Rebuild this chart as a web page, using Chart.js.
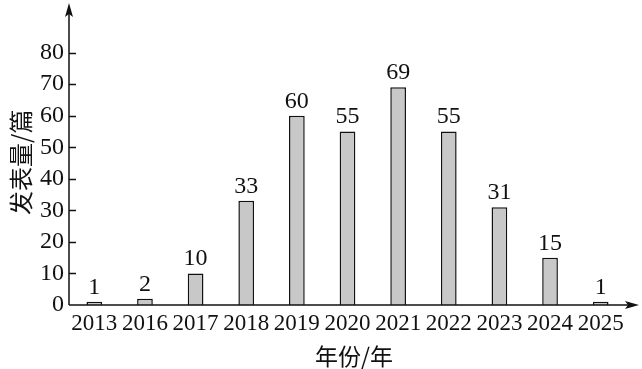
<!DOCTYPE html>
<html>
<head>
<meta charset="utf-8">
<script src="https://cdn.jsdelivr.net/npm/chart.js@4/dist/chart.umd.min.js"></script>
<style>
  html, body { margin: 0; padding: 0; background: #fff; }
  #wrap { width: 642px; height: 369px; }
</style>
</head>
<body>
<div id="wrap"><canvas id="chart" width="642" height="369"></canvas></div>
<script>
// data
let years = ["2013", "2016", "2017", "2018", "2019", "2020", "2021", "2022", "2023", "2024", "2025"];
let counts = [1, 2, 10, 33, 60, 55, 69, 55, 31, 15, 1];
let yTicks = [0, 10, 20, 30, 40, 50, 60, 70, 80];
let xTitle = "年份/年";
let yTitle = "发表量/篇";

let serif = "'Liberation Serif', 'Times New Roman', serif";
let cjk = "'Noto Sans CJK SC', sans-serif";

// axes with arrows, inward ticks, value labels, x title
let axesPlugin = {
    id: "axesArrows",
    afterDatasetsDraw(chart) {
        let ctx = chart.ctx;
        let area = chart.chartArea;
        let y = chart.scales.y;
        let x0 = area.left, y0 = y.getPixelForValue(0);
        ctx.save();
        ctx.strokeStyle = "#111";
        ctx.fillStyle = "#111";
        ctx.lineWidth = 1.5;

        // y axis
        ctx.beginPath();
        ctx.moveTo(x0, y0);
        ctx.lineTo(x0, 8);
        ctx.stroke();
        ctx.beginPath();
        ctx.moveTo(x0, 3);
        ctx.lineTo(x0 - 4, 17);
        ctx.lineTo(x0, 14);
        ctx.lineTo(x0 + 4, 17);
        ctx.closePath();
        ctx.fill();

        // x axis
        let xEnd = chart.width - 3;
        ctx.beginPath();
        ctx.moveTo(x0, y0);
        ctx.lineTo(xEnd - 4, y0);
        ctx.stroke();
        ctx.beginPath();
        ctx.moveTo(xEnd, y0);
        ctx.lineTo(xEnd - 14, y0 - 4);
        ctx.lineTo(xEnd - 11, y0);
        ctx.lineTo(xEnd - 14, y0 + 4);
        ctx.closePath();
        ctx.fill();

        // inward ticks
        ctx.beginPath();
        yTicks.forEach(v => {
            if (v === 0) return;
            let py = Math.round(y.getPixelForValue(v)) + 0.5;
            ctx.moveTo(x0, py);
            ctx.lineTo(x0 + 7, py);
        });
        ctx.stroke();

        // value labels
        ctx.font = "24px " + serif;
        ctx.textAlign = "center";
        ctx.textBaseline = "alphabetic";
        chart.getDatasetMeta(0).data.forEach((bar, i) => {
            ctx.fillText(String(counts[i]), bar.x, bar.y - 8);
        });

        // x title, centred under the axis line incl. arrow
        ctx.font = "23px " + cjk;
        ctx.textBaseline = "middle";
        ctx.fillText(xTitle, (x0 + xEnd) / 2, 356);
        ctx.restore();
    }
};

new Chart(document.getElementById("chart"), {
    type: "bar",
    data: {
        labels: years,
        datasets: [{
            data: counts,
            backgroundColor: "#c8c8c8",
            borderColor: "#111",
            borderWidth: 1.5,
            barPercentage: 0.31,
            categoryPercentage: 1.0
        }]
    },
    options: {
        responsive: false,
        animation: false,
        layout: { padding: { top: 3, right: 16, left: 0, bottom: 0 } },
        plugins: {
            legend: { display: false },
            tooltip: { enabled: false }
        },
        scales: {
            x: {
                grid: { display: false, drawTicks: false },
                border: { display: false },
                ticks: {
                    color: "#111",
                    font: { family: serif, size: 23 },
                    padding: 5,
                    maxRotation: 0,
                    autoSkip: false
                },
                afterFit(scale) { scale.height = 64; }
            },
            y: {
                min: 0,
                max: 90.5,
                grid: { display: false, drawTicks: false },
                border: { display: false },
                ticks: {
                    stepSize: 10,
                    color: "#111",
                    font: { family: serif, size: 24 },
                    padding: 5
                },
                afterBuildTicks(scale) {
                    scale.ticks = yTicks.map(v => ({ value: v }));
                },
                title: {
                    display: true,
                    text: yTitle,
                    color: "#111",
                    font: { family: cjk, size: 24 },
                    padding: { top: 6, bottom: 0 }
                },
                afterFit(scale) { scale.width = 69; }
            }
        }
    },
    plugins: [axesPlugin]
});
</script>
</body>
</html>
